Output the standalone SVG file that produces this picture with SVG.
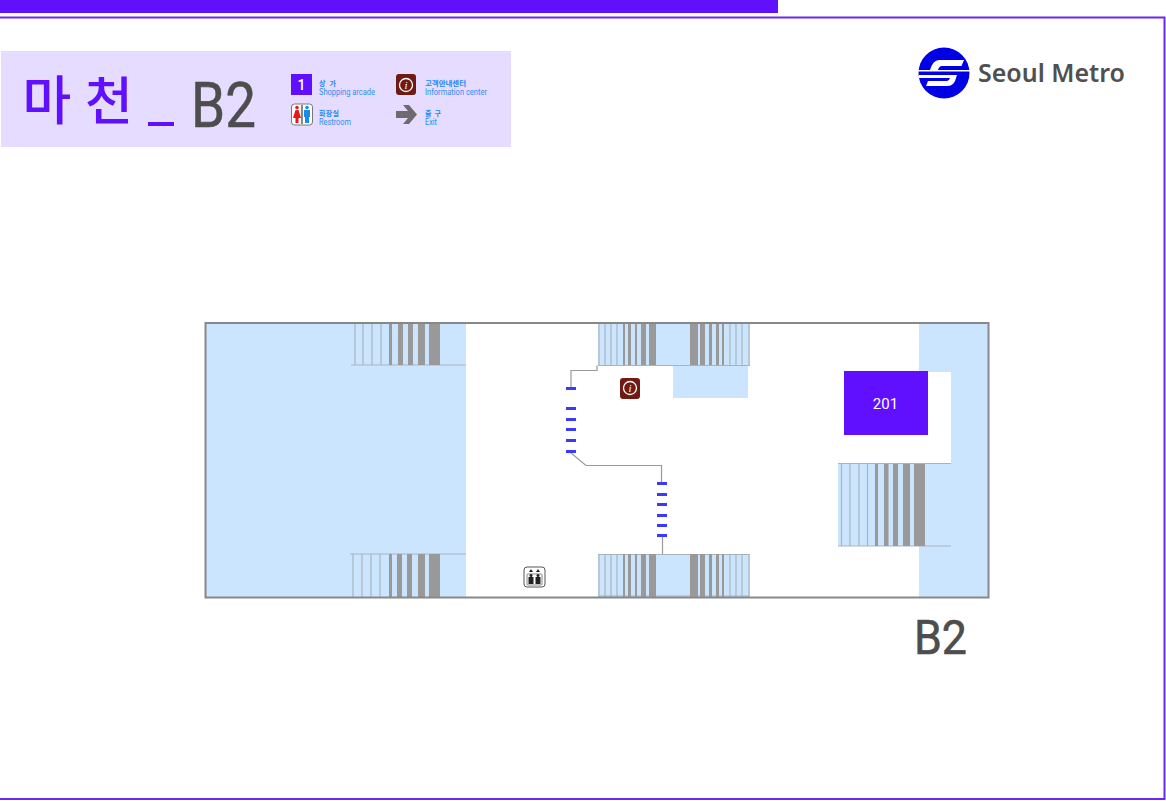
<svg xmlns="http://www.w3.org/2000/svg" width="1166" height="801" viewBox="0 0 1166 801">
<style>
.b{fill:#cce5ff}.w{fill:#fff}
.t{stroke:#a8b4bc;stroke-width:1.2}
.g{fill:#999}.c{stroke:#999;stroke-width:1.2;fill:none}
.d{fill:#3a3aff}
.k{font-family:"Noto Sans CJK KR",sans-serif;font-weight:500}
.l{font-family:"Roboto","Noto Sans CJK KR",sans-serif;fill:#2f8df5;font-size:8.500px}
.lk{font-family:"Noto Sans CJK KR",sans-serif;font-weight:700;fill:#1f86f5;font-size:7px}
.n{font-family:"Roboto",sans-serif;font-weight:400;fill:#4d4d4d;stroke:#4d4d4d;stroke-width:.6}
</style>
<rect width="1166" height="801" fill="#fff"/>
<g id="frame">
<rect x="0" y="0" width="778" height="13" fill="#6010ff"/>
<path d="M0 17.500H1164.500V799H0" fill="none" stroke="#6a28f0" stroke-width="2"/>
</g>
<g id="title">
<rect x="1" y="51" width="510" height="96" fill="#e6dcff"/>
<text class="k" x="22.500" y="120" font-size="53" fill="#6010ff">마</text>
<text class="k" x="85" y="120" font-size="52" fill="#6010ff">천</text>
<rect x="148" y="122" width="26" height="4" fill="#6010ff"/>
<text class="n" x="191" y="127" font-size="63" textLength="65" lengthAdjust="spacingAndGlyphs">B2</text>
</g>
<g id="legend-shop">
<rect x="291" y="74" width="21" height="21" fill="#6010ff"/>
<text x="301.500" y="90" text-anchor="middle" font-family="Roboto,sans-serif" font-weight="500" font-size="14" fill="#fff">1</text>
<text class="lk" x="319" y="86" textLength="17" lengthAdjust="spacing">상 가</text>
<text class="l" x="319" y="95" textLength="56" lengthAdjust="spacingAndGlyphs">Shopping arcade</text>
</g>
<g id="legend-info">
<rect x="396" y="74" width="20" height="21" rx="3" fill="#701a14"/>
<circle cx="406" cy="85" r="6.500" fill="none" stroke="#fff" stroke-width="1.300"/>
<text x="406" y="89" text-anchor="middle" font-family="Liberation Serif,serif" font-style="italic" font-size="11" fill="#fff">i</text>
<text class="lk" x="425" y="86" textLength="41" lengthAdjust="spacingAndGlyphs">고객안내센터</text>
<text class="l" x="425" y="95" textLength="62" lengthAdjust="spacingAndGlyphs">Information center</text>
</g>
<g id="legend-restroom">
<rect x="291.500" y="104" width="21" height="21" rx="3" fill="#fff" stroke="#777"/>
<circle cx="297" cy="107.500" r="1.800" fill="#e81818"/>
<path d="M295.500 110h3l2.500 8h-2.500v5h-3v-5H293z" fill="#e81818"/>
<rect x="301.500" y="105" width="1" height="19" fill="#111"/>
<circle cx="307" cy="107.500" r="1.800" fill="#1a8ce8"/>
<path d="M304 110h6v7h-1v6h-4v-6h-1z" fill="#1a8ce8"/>
<text class="lk" x="319" y="116" textLength="20" lengthAdjust="spacing">화장실</text>
<text class="l" x="319" y="125" textLength="32" lengthAdjust="spacingAndGlyphs">Restroom</text>
</g>
<g id="legend-exit">
<path d="M396 111h12l-5-6h6l8 9.500-8 9.500h-6l5-6h-12z" fill="#6e6a70"/>
<text class="lk" x="425" y="116" textLength="16" lengthAdjust="spacing">출 구</text>
<text class="l" x="425" y="125" textLength="12" lengthAdjust="spacingAndGlyphs">Exit</text>
</g>
<g id="logo">
<circle cx="944" cy="73" r="25.500" fill="#0000e6"/>
<path d="M939 60H964L961.500 66H942Q939 66 938 70H970V71.500H918V70H930Q933 60 939 60z" fill="#fff"/>
<path d="M919 75H957L955 81Q953 86 947 86H926L928 81H947Q949 81 950 78H919z" fill="#fff"/>
<text x="978" y="82" font-family="Noto Sans,sans-serif" font-weight="600" font-size="25" fill="#505050" textLength="147" lengthAdjust="spacingAndGlyphs">Seoul Metro</text>
</g>
<g id="plan">
<rect x="206" y="324" width="260" height="273" class="b"/>
<rect x="919" y="324" width="69" height="273" class="b"/>
<rect x="598" y="324" width="152" height="41" class="b"/>
<rect x="673" y="365" width="75" height="33" class="b"/>
<rect x="598" y="554" width="152" height="43" class="b"/>
<rect x="919" y="372" width="32" height="91" class="w"/>
<rect x="838" y="463" width="113" height="83" class="b"/>
</g>
<g id="stairs-top-left">
<path class="t" d="M355 324V365M363 324V365M372 324V365M381 324V365M351 365H466"/>
<g class="g"><rect x="389" y="324" width="3" height="41"/><rect x="398" y="324" width="5" height="41"/><rect x="408" y="324" width="5" height="41"/><rect x="418" y="324" width="7" height="41"/><rect x="429" y="324" width="11" height="41"/></g>
</g>
<g id="stairs-bottom-left">
<path class="t" d="M353 554V597M362 554V597M371 554V597M380 554V597M350 554H466"/>
<g class="g"><rect x="389" y="554" width="3" height="43"/><rect x="397" y="554" width="5" height="43"/><rect x="407" y="554" width="5" height="43"/><rect x="418" y="554" width="7" height="43"/><rect x="429" y="554" width="11" height="43"/></g>
</g>
<g id="stairs-top-mid">
<path class="t" d="M599 324V365M605 324V365M611 324V365M617 324V365M730 324V365M736 324V365M742 324V365M749 324V365M598 365.500H750"/>
<g class="g"><rect x="623" y="324" width="2" height="41"/><rect x="628" y="324" width="3" height="41"/><rect x="635" y="324" width="2" height="41"/><rect x="641" y="324" width="5" height="41"/><rect x="649" y="324" width="7" height="41"/><rect x="690" y="324" width="8" height="41"/><rect x="700" y="324" width="5" height="41"/><rect x="709" y="324" width="3" height="41"/><rect x="716" y="324" width="3" height="41"/><rect x="722" y="324" width="2" height="41"/></g>
</g>
<g id="stairs-bottom-mid">
<path class="t" d="M599 554V597M605 554V597M611 554V597M617 554V597M730 554V597M736 554V597M742 554V597M749 554V597M598 554.500H750M598 596H750"/>
<g class="g"><rect x="623" y="554" width="2" height="43"/><rect x="628" y="554" width="3" height="43"/><rect x="635" y="554" width="2" height="43"/><rect x="641" y="554" width="5" height="43"/><rect x="649" y="554" width="7" height="43"/><rect x="690" y="554" width="8" height="43"/><rect x="700" y="554" width="5" height="43"/><rect x="709" y="554" width="3" height="43"/><rect x="716" y="554" width="3" height="43"/><rect x="722" y="554" width="2" height="43"/></g>
</g>
<g id="stairs-right">
<path class="t" d="M841.500 463V546M850 463V546M859 463V546M867.500 463V546M838 463.500H951M838 546H951"/>
<g class="g"><rect x="875" y="464" width="3" height="82"/><rect x="884" y="464" width="4.500" height="82"/><rect x="893" y="464" width="5" height="82"/><rect x="903" y="464" width="7" height="82"/><rect x="914" y="464" width="11" height="82"/></g>
</g>
<g id="outline"><rect x="205.500" y="323" width="783" height="274.500" fill="none" stroke="#888" stroke-width="2"/></g>
<g id="shop-201">
<rect x="844" y="371" width="84" height="64" fill="#6010ff"/>
<text x="885.500" y="409" text-anchor="middle" font-family="Roboto,sans-serif" font-weight="400" font-size="15" fill="#fff">201</text>
</g>
<g id="info-point">
<rect x="620" y="378" width="20" height="21" rx="3" fill="#701a14"/>
<circle cx="630" cy="388" r="6.500" fill="none" stroke="#fff" stroke-width="1.300"/>
<text x="630" y="392" text-anchor="middle" font-family="Liberation Serif,serif" font-style="italic" font-size="11" fill="#fff">i</text>
</g>
<g id="elevator">
<rect x="524" y="567" width="21" height="20" rx="3" fill="#fff" stroke="#555"/>
<rect x="527" y="574" width="15" height="11" rx="1" fill="#fff" stroke="#555" stroke-width=".7"/>
<path d="M529 572l2-3 2 3zM536 572l2-3 2 3z" fill="#222"/>
<path d="M528.500 577h5v7h-5zM535.500 577h5v7h-5z" fill="#222"/>
<circle cx="531" cy="575.500" r="1.500" fill="#222"/><circle cx="538" cy="575.500" r="1.500" fill="#222"/>
</g>
<g id="connectors">
<path class="c" d="M597 365.500V370.500H571V388"/>
<path class="c" d="M571 453L586 465.500H661.500V483"/>
<path class="c" d="M662.500 536V554"/>
<g class="d">
<rect x="566" y="387" width="10" height="3"/>
<rect x="566" y="407" width="10" height="3"/><rect x="566" y="418" width="10" height="3"/><rect x="566" y="428" width="10" height="3"/><rect x="566" y="439" width="10" height="3"/><rect x="566" y="450" width="10" height="3"/>
<rect x="657" y="482" width="10" height="3"/><rect x="657" y="493" width="10" height="3"/><rect x="657" y="503" width="10" height="3"/><rect x="657" y="514" width="10" height="3"/><rect x="657" y="524" width="10" height="3"/><rect x="657" y="534" width="10" height="3"/>
</g>
</g>
<g id="level-label"><text class="n" x="914" y="654" font-size="48" textLength="53" lengthAdjust="spacingAndGlyphs">B2</text></g>
</svg>
